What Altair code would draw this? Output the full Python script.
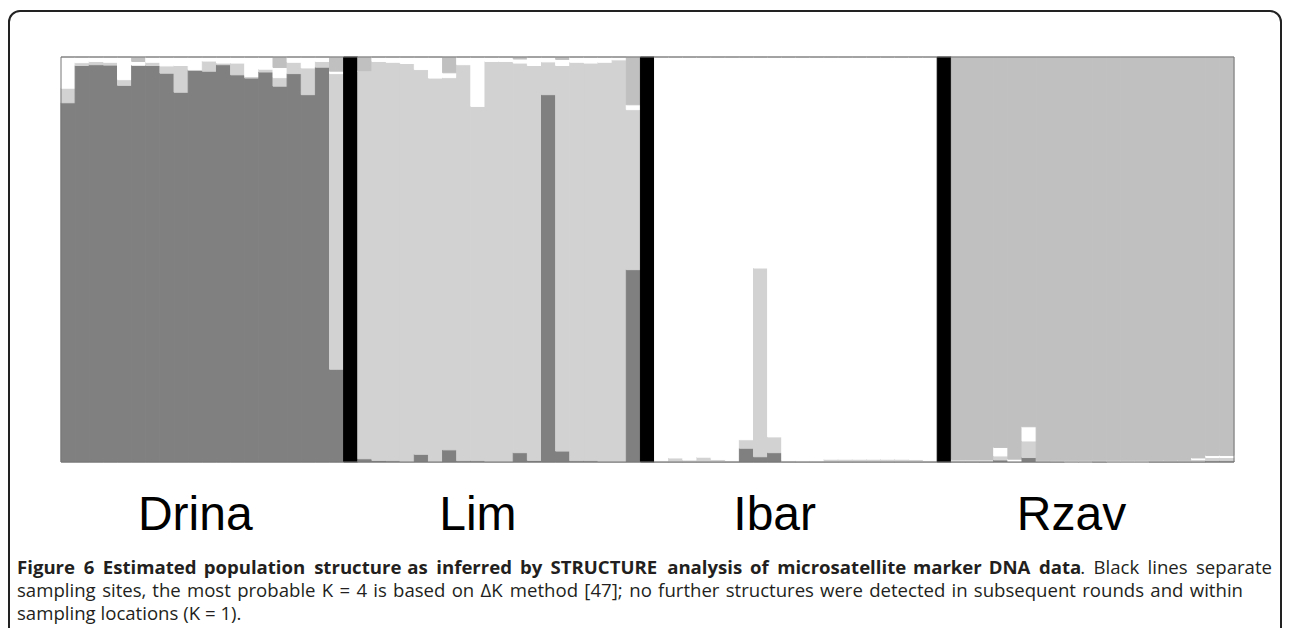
import altair as alt
import pandas as pd

populations = ["Drina", "Lim", "Ibar", "Rzav"]
clusters = ["A", "B", "C", "D"]  # dark gray, stippled gray, white, light gray
cluster_colors = ["#808080", "#d2d2d2", "#ffffff", "#c0c0c0"]

# membership proportions per individual (20 per sampling site), bottom to top: A, B, C, D
drina_A = [0.887, 0.979, 0.981, 0.980, 0.930, 0.980, 0.979, 0.960, 0.913, 0.967,
           0.965, 0.981, 0.956, 0.948, 0.963, 0.928, 0.959, 0.907, 0.975, 0.229]
drina_B = [0.036, 0.007, 0.008, 0.007, 0.014, 0.000, 0.008, 0.018, 0.066, 0.002,
           0.025, 0.004, 0.029, 0.004, 0.007, 0.021, 0.028, 0.066, 0.014, 0.730]
drina_C = [0.077, 0.014, 0.011, 0.013, 0.056, 0.009, 0.013, 0.022, 0.021, 0.031,
           0.010, 0.015, 0.015, 0.048, 0.030, 0.025, 0.013, 0.027, 0.011, 0.006]
drina_D = [0.000, 0.000, 0.000, 0.000, 0.000, 0.011, 0.000, 0.000, 0.000, 0.000,
           0.000, 0.000, 0.000, 0.000, 0.000, 0.026, 0.000, 0.000, 0.000, 0.035]

lim_A = [0.008, 0.004, 0.003, 0.000, 0.019, 0.000, 0.030, 0.003, 0.003, 0.000,
         0.000, 0.023, 0.004, 0.907, 0.027, 0.003, 0.003, 0.000, 0.000, 0.475]
lim_B = [0.957, 0.985, 0.984, 0.984, 0.950, 0.948, 0.919, 0.978, 0.875, 0.989,
         0.989, 0.962, 0.975, 0.081, 0.952, 0.984, 0.982, 0.987, 0.993, 0.395]
lim_C = [0.000, 0.011, 0.013, 0.016, 0.031, 0.052, 0.012, 0.019, 0.122, 0.011,
         0.011, 0.010, 0.021, 0.012, 0.015, 0.013, 0.015, 0.013, 0.007, 0.012]
lim_D = [0.035, 0.000, 0.000, 0.000, 0.000, 0.000, 0.039, 0.000, 0.000, 0.000,
         0.000, 0.005, 0.000, 0.000, 0.006, 0.000, 0.000, 0.000, 0.000, 0.118]

ibar_A = [0.000, 0.000, 0.000, 0.000, 0.000, 0.000, 0.034, 0.013, 0.023, 0.000,
          0.000, 0.000, 0.000, 0.000, 0.000, 0.000, 0.000, 0.000, 0.000, 0.000]
ibar_B = [0.003, 0.010, 0.005, 0.012, 0.006, 0.004, 0.021, 0.466, 0.039, 0.004,
          0.003, 0.003, 0.007, 0.007, 0.007, 0.007, 0.007, 0.007, 0.006, 0.004]
ibar_C = [0.997, 0.990, 0.995, 0.988, 0.994, 0.996, 0.945, 0.521, 0.938, 0.996,
          0.997, 0.997, 0.993, 0.993, 0.993, 0.993, 0.993, 0.993, 0.994, 0.996]
ibar_D = [0.000] * 20

rzav_A = [0.000, 0.000, 0.000, 0.005, 0.000, 0.011, 0.000, 0.000, 0.000, 0.000,
          0.000, 0.000, 0.000, 0.000, 0.000, 0.000, 0.000, 0.000, 0.003, 0.003]
rzav_B = [0.005, 0.005, 0.005, 0.010, 0.002, 0.041, 0.004, 0.003, 0.000, 0.000,
          0.003, 0.000, 0.000, 0.000, 0.004, 0.004, 0.004, 0.006, 0.008, 0.008]
rzav_C = [0.000, 0.000, 0.000, 0.021, 0.005, 0.035, 0.000, 0.000, 0.003, 0.003,
          0.000, 0.003, 0.003, 0.003, 0.000, 0.000, 0.000, 0.004, 0.005, 0.005]
rzav_D = [0.995, 0.995, 0.995, 0.964, 0.993, 0.913, 0.996, 0.997, 0.997, 0.997,
          0.997, 0.997, 0.997, 0.997, 0.996, 0.996, 0.996, 0.990, 0.984, 0.984]

site_values = {
    "Drina": [drina_A, drina_B, drina_C, drina_D],
    "Lim": [lim_A, lim_B, lim_C, lim_D],
    "Ibar": [ibar_A, ibar_B, ibar_C, ibar_D],
    "Rzav": [rzav_A, rzav_B, rzav_C, rzav_D],
}

# label anchor individual (1-based) under which each site name sits
label_anchor = {"Drina": 10, "Lim": 9, "Ibar": 9, "Rzav": 9}

caption_bold = ("Figure 6 Estimated population structure as inferred by STRUCTURE "
                "analysis of microsatellite marker DNA data")
caption_l1_rest = ". Black lines separate"
caption_l2 = ("sampling sites, the most probable K = 4 is based on \u0394K method [47]; "
              "no further structures were detected in subsequent rounds and within")
caption_l3 = "sampling locations (K = 1)."

# ---------------- layout constants ----------------
W, H = 1173, 405
PAD = {"left": 53, "top": 49, "right": 48, "bottom": 166}
CAP_FONT = "Open Sans"
CAP_SIZE = 18.6
CAP_LEFT, CAP_RIGHT = -44, 1211          # plot-area coords
LINE2_RIGHT = 1182
LINE_Y = [511, 534, 557]

# approximate advance widths (em) used only to spread words for justified text
_w = {" ": 0.26, "a": 0.556, "b": 0.613, "c": 0.476, "d": 0.613, "e": 0.561, "f": 0.339,
      "g": 0.548, "h": 0.614, "i": 0.253, "j": 0.253, "k": 0.525, "l": 0.253, "m": 0.930,
      "n": 0.614, "o": 0.604, "p": 0.613, "q": 0.613, "r": 0.408, "s": 0.477, "t": 0.353,
      "u": 0.614, "v": 0.501, "w": 0.778, "x": 0.524, "y": 0.502, "z": 0.477,
      ".": 0.266, ",": 0.245, ";": 0.266, "(": 0.297, ")": 0.297, "[": 0.336, "]": 0.336,
      "=": 0.572, "\u0394": 0.62}
_caps_bold = {"A": 0.70, "C": 0.65, "D": 0.75, "E": 0.56, "F": 0.56, "N": 0.80,
              "R": 0.68, "S": 0.57, "T": 0.58, "U": 0.76}
_caps_reg = {"B": 0.64, "K": 0.62}

def est_width(word, bold=False):
    tot = 0.0
    for ch in word:
        if bold and ch in "ijl":
            tot += 0.30
        elif bold and ch in _caps_bold:
            tot += _caps_bold[ch]
        elif (not bold) and ch in _caps_reg:
            tot += _caps_reg[ch]
        elif ch in _w:
            tot += _w[ch] * (1.07 if bold else 1.0)
        elif ch.isdigit():
            tot += 0.572
        elif ch.isupper():
            tot += 0.64
        else:
            tot += 0.55
    return tot * CAP_SIZE

def justify(words, left, right, y):
    """words: list of (text, bold). Returns rows with left x for each word."""
    widths = [est_width(t, b) for t, b in words]
    gaps = sum(1 for t, _ in words[1:] if not t.startswith("."))
    extra = (right - left - sum(widths)) / max(gaps, 1)
    rows, x = [], left
    for i, ((t, b), wdt) in enumerate(zip(words, widths)):
        if i > 0 and not t.startswith("."):
            x += extra
        last = i == len(words) - 1
        rows.append({"t": t, "bold": "bold" if b else "normal",
                     "x": right if last else x, "y": y, "align": "right" if last else "left"})
        x += wdt
    return rows

line1 = [(w, True) for w in caption_bold.split(" ")] + \
        [(w, False) for w in caption_l1_rest.split(" ")]
line2 = [(w, False) for w in caption_l2.split(" ")]
cap_rows = justify(line1, CAP_LEFT, CAP_RIGHT, LINE_Y[0]) + \
           justify(line2, CAP_LEFT, LINE2_RIGHT, LINE_Y[1]) + \
           [{"t": caption_l3, "bold": "normal", "x": CAP_LEFT, "y": LINE_Y[2], "align": "left"}]
cap_df = pd.DataFrame(cap_rows)

# ---------------- build tables ----------------
slots = []
rows = []
for p_i, pop in enumerate(populations):
    if p_i > 0:
        sep = f"sep{p_i}"
        slots.append(sep)
        rows.append({"slot": sep, "cluster": "S", "k": 0, "q": 1.0})
    for i in range(20):
        s = f"{pop}-{i + 1}"
        slots.append(s)
        for k, c in enumerate(clusters):
            rows.append({"slot": s, "cluster": c, "k": k, "q": site_values[pop][k][i]})
df = pd.DataFrame(rows)

labels_df = pd.DataFrame({
    "slot": [f"{p}-{label_anchor[p]}" for p in populations],
    "name": populations,
})

xscale = alt.Scale(domain=slots, paddingInner=0, paddingOuter=0)
cscale = alt.Scale(domain=clusters + ["S"], range=cluster_colors + ["#000000"])

bars = alt.Chart(df).mark_bar(strokeWidth=1).encode(
    x=alt.X("slot:N", scale=xscale, axis=None),
    y=alt.Y("q:Q", stack="normalize", scale=alt.Scale(domain=[0, 1], nice=False), axis=None),
    color=alt.Color("cluster:N", scale=cscale, legend=None),
    stroke=alt.Color("cluster:N", scale=cscale, legend=None),
    order=alt.Order("k:Q", sort="ascending"),
)

plot_border = alt.Chart(pd.DataFrame({"a": [0]})).mark_rect(
    fillOpacity=0, stroke="#777777", strokeWidth=1
).encode(x=alt.value(0), x2=alt.value(W), y=alt.value(0), y2=alt.value(H))

frame = alt.Chart(pd.DataFrame({"a": [0]})).mark_rect(
    fillOpacity=0, stroke="#222222", strokeWidth=2, cornerRadius=11
).encode(x=alt.value(-52), x2=alt.value(1220), y=alt.value(-46), y2=alt.value(640))

site_labels = alt.Chart(labels_df).mark_text(
    font="Liberation Sans", fontSize=48, baseline="alphabetic", align="center", color="#000000"
).encode(
    x=alt.X("slot:N", scale=xscale, axis=None),
    y=alt.value(473),
    text="name:N",
)

def cap_layer(weight, align):
    sub = cap_df[(cap_df["bold"] == weight) & (cap_df["align"] == align)]
    return alt.Chart(sub).mark_text(
        font=CAP_FONT, fontSize=CAP_SIZE, fontWeight=weight, align=align,
        baseline="middle", color="#231f20"
    ).encode(
        x=alt.X("x:Q", scale=None),
        y=alt.Y("y:Q", scale=None),
        text="t:N",
    )

caps = [cap_layer(wt, al) for wt in ["bold", "normal"] for al in ["left", "right"]
        if len(cap_df[(cap_df["bold"] == wt) & (cap_df["align"] == al)]) > 0]

chart = alt.layer(
    frame, bars, plot_border, site_labels, *caps
).properties(
    width=W, height=H, padding=PAD, autosize="none", background="#ffffff"
).configure_view(stroke=None)

chart.save("out.html", embed_options={"renderer": "svg", "actions": False})
